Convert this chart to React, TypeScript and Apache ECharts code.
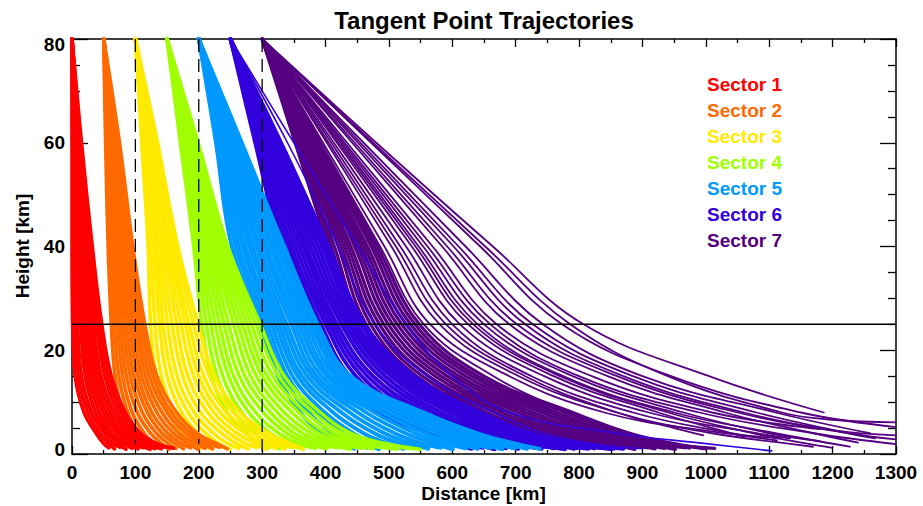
import React, { useEffect, useRef } from "react";
import * as echarts from "echarts";

// Heights (km) at which each trajectory's distance is read
const LEVELS = [80, 60, 40, 25, 15, 8, 4, 2];

const SECTOR_NAMES = ["Sector 1", "Sector 2", "Sector 3", "Sector 4", "Sector 5", "Sector 6", "Sector 7"];
const SECTOR_COLORS = ["#FF0000", "#FF6A00", "#FFEA00", "#A0FF00", "#0099FF", "#3300DD", "#550080"];

const X_TICKS = [0, 100, 200, 300, 400, 500, 600, 700, 800, 900, 1000, 1100, 1200, 1300];
const Y_TICKS = [0, 20, 40, 60, 80];
const DASHED_X = [100, 200, 300];
const DASHED_BOTTOM = [2, 2, 0.5];
const REF_HEIGHT = 25;

// Each line: x (km) at LEVELS (in order, possibly fewer), then tail points [x, h]
const SECTOR1 = [
  { x: [0, 0, 0, 1, 5, 19, 38, 50], tail: [[58, 1.2]] },
  { x: [0, 1, 3, 5, 10, 25, 44, 58], tail: [[67, 1.0]] },
  { x: [0, 3, 6, 9, 15, 31, 51, 65], tail: [[76, 1.3]] },
  { x: [0, 4, 9, 14, 21, 37, 57, 73], tail: [[85, 0.9]] },
  { x: [0, 5, 12, 18, 26, 43, 63, 81], tail: [[95, 1.1]] },
  { x: [0, 7, 15, 22, 31, 49, 70, 88], tail: [[104, 1.0]] },
  { x: [0, 8, 17, 26, 36, 54, 76, 96], tail: [[113, 1.2]] },
  { x: [0, 10, 20, 30, 41, 60, 82, 104], tail: [[123, 0.9]] },
  { x: [0, 11, 23, 34, 46, 66, 89, 111], tail: [[132, 1.1]] },
  { x: [0, 12, 26, 39, 52, 72, 95, 119], tail: [[141, 1.0]] },
  { x: [0, 14, 29, 43, 57, 78, 102, 126], tail: [[150, 1.3]] },
  { x: [0, 15, 32, 47, 62, 84, 108, 134], tail: [[160, 1.1]] },
];

const SECTOR2 = [
  { x: [50, 53, 57, 62, 68, 80, 96, 108], tail: [[118, 1.2]] },
  { x: [50, 55, 61, 67, 74, 88, 105, 119], tail: [[130, 1.0]] },
  { x: [50, 57, 64, 72, 80, 95, 114, 130], tail: [[141, 1.3]] },
  { x: [50, 59, 68, 76, 86, 103, 124, 141], tail: [[153, 0.9]] },
  { x: [50, 61, 71, 81, 92, 111, 133, 152], tail: [[164, 1.1]] },
  { x: [50, 63, 75, 86, 98, 119, 142, 163], tail: [[176, 1.0]] },
  { x: [50, 65, 78, 91, 104, 126, 151, 173], tail: [[187, 1.2]] },
  { x: [50, 67, 82, 96, 110, 134, 160, 184], tail: [[199, 0.9]] },
  { x: [50, 69, 85, 101, 116, 142, 169, 195], tail: [[210, 1.1]] },
  { x: [50, 71, 89, 105, 122, 150, 179, 206], tail: [[222, 1.0]] },
  { x: [50, 73, 92, 110, 128, 157, 188, 217], tail: [[233, 1.3]] },
  { x: [50, 75, 96, 115, 134, 165, 197, 228], tail: [[245, 1.0]] },
];

const SECTOR3 = [
  { x: [100, 110, 120, 124, 133, 152, 174, 190], tail: [[205, 1.2]] },
  { x: [100, 112, 124, 131, 141, 162, 186, 204], tail: [[220, 1.0]] },
  { x: [100, 115, 129, 138, 150, 173, 199, 218], tail: [[234, 1.3]] },
  { x: [100, 117, 133, 144, 158, 183, 211, 232], tail: [[249, 0.9]] },
  { x: [100, 119, 137, 151, 166, 193, 223, 246], tail: [[263, 1.1]] },
  { x: [100, 121, 141, 158, 175, 203, 236, 260], tail: [[278, 1.0]] },
  { x: [100, 124, 146, 165, 183, 214, 248, 274], tail: [[292, 1.2]] },
  { x: [100, 126, 150, 172, 192, 224, 260, 289], tail: [[307, 0.9]] },
  { x: [100, 128, 154, 179, 200, 234, 273, 303], tail: [[321, 1.1]] },
  { x: [100, 130, 158, 185, 208, 244, 285, 317], tail: [[336, 1.0]] },
  { x: [100, 133, 163, 192, 217, 255, 298, 331], tail: [[350, 1.2]] },
  { x: [100, 135, 167, 199, 225, 265, 310, 345], tail: [[365, 1.0]] },
];

const SECTOR4 = [
  { x: [150, 171, 192, 205, 220, 245, 275, 295], tail: [[310, 1.2]] },
  { x: [150, 173, 196, 212, 229, 256, 288, 310], tail: [[328, 1.0]] },
  { x: [150, 175, 200, 219, 238, 268, 300, 326], tail: [[347, 1.3]] },
  { x: [150, 177, 204, 226, 247, 279, 313, 341], tail: [[365, 0.9]] },
  { x: [150, 180, 209, 233, 255, 290, 326, 357], tail: [[384, 1.1]] },
  { x: [150, 182, 213, 240, 264, 302, 339, 372], tail: [[402, 1.0]] },
  { x: [150, 184, 217, 247, 273, 313, 351, 387], tail: [[420, 1.2]] },
  { x: [150, 186, 221, 255, 282, 324, 364, 403], tail: [[439, 0.9]] },
  { x: [150, 188, 225, 262, 291, 335, 377, 418], tail: [[457, 1.1]] },
  { x: [150, 190, 229, 269, 300, 347, 389, 433], tail: [[475, 1.0]] },
  { x: [150, 193, 234, 276, 308, 358, 402, 449], tail: [[494, 1.2]] },
  { x: [150, 195, 238, 283, 317, 369, 415, 464], tail: [[512, 0.9]] },
  { x: [150, 197, 242, 290, 326, 381, 427, 480], tail: [[531, 1.1]] },
  { x: [150, 199, 246, 297, 335, 392, 440, 495], tail: [[549, 0.9]] },
];

const SECTOR5 = [
  { x: [200, 227, 252, 297, 325, 360, 395, 425], tail: [[445, 1.0]] },
  { x: [200, 230, 258, 303, 333, 373, 411, 443], tail: [[465, 1.2]] },
  { x: [200, 232, 263, 309, 340, 386, 428, 462], tail: [[484, 0.9]] },
  { x: [200, 235, 269, 315, 348, 399, 444, 480], tail: [[504, 1.1]] },
  { x: [200, 238, 274, 321, 356, 412, 460, 498], tail: [[523, 1.0]] },
  { x: [200, 241, 280, 327, 363, 425, 477, 517], tail: [[543, 1.3]] },
  { x: [200, 243, 285, 333, 371, 438, 493, 535], tail: [[562, 1.0]] },
  { x: [200, 246, 291, 339, 379, 451, 509, 553], tail: [[582, 1.2]] },
  { x: [200, 249, 296, 346, 386, 464, 526, 572], tail: [[601, 0.9]] },
  { x: [200, 252, 302, 352, 394, 477, 542, 590], tail: [[621, 1.1]] },
  { x: [200, 254, 307, 358, 402, 490, 558, 608], tail: [[640, 1.0]] },
  { x: [200, 257, 313, 364, 409, 503, 575, 627], tail: [[660, 1.2]] },
  { x: [200, 260, 318, 370, 417, 516, 591, 645], tail: [[679, 0.9]] },
  { x: [200, 263, 324, 376, 425, 529, 607, 663], tail: [[699, 1.1]] },
  { x: [200, 265, 329, 382, 432, 542, 624, 682], tail: [[718, 1.0]] },
  { x: [200, 268, 335, 388, 440, 555, 640, 700], tail: [[738, 1.0]] },
];

const SECTOR6 = [
  { x: [250, 289, 330, 381, 420, 485, 560, 605], tail: [[630, 1.0]] },
  { x: [250, 292, 336, 387, 429, 497, 573, 620], tail: [[648, 1.2]] },
  { x: [250, 295, 342, 393, 438, 510, 585, 635], tail: [[667, 0.9]] },
  { x: [250, 298, 347, 400, 448, 522, 598, 650], tail: [[685, 1.1]] },
  { x: [250, 302, 353, 406, 457, 534, 611, 665], tail: [[704, 1.0]] },
  { x: [250, 305, 359, 412, 466, 547, 623, 680], tail: [[722, 1.3]] },
  { x: [250, 308, 365, 418, 475, 559, 636, 695], tail: [[741, 1.0]] },
  { x: [250, 311, 370, 425, 485, 571, 649, 710], tail: [[759, 1.2]] },
  { x: [250, 314, 376, 431, 494, 583, 662, 725], tail: [[778, 0.9]] },
  { x: [250, 317, 382, 437, 503, 596, 674, 740], tail: [[796, 1.1]] },
  { x: [250, 321, 388, 443, 512, 608, 687, 755], tail: [[815, 1.0]] },
  { x: [250, 324, 394, 449, 522, 620, 700, 770], tail: [[833, 1.2]] },
  { x: [250, 327, 399, 456, 531, 633, 712, 785], tail: [[852, 0.9]] },
  { x: [250, 330, 405, 462, 540, 645, 725, 800], tail: [[870, 1.0]] },
];
const SECTOR6_THIN = [
  { x: [250, 340, 420, 478, 560, 665, 745, 820], tail: [[900, 1.0]] },
  { x: [250, 350, 451, 527, 600, 690, 860, 1000], tail: [[1104, 0.6]] },
];

const SECTOR7_CORE = [
  { x: [300, 352, 404, 443, 505, 605, 685, 735], tail: [[760, 1.0]] },
  { x: [300, 355, 409, 450, 515, 617, 698, 749], tail: [[776, 1.2]] },
  { x: [300, 357, 414, 457, 524, 630, 711, 764], tail: [[792, 0.9]] },
  { x: [300, 360, 420, 464, 534, 642, 724, 778], tail: [[808, 1.1]] },
  { x: [300, 362, 425, 471, 544, 654, 737, 792], tail: [[824, 1.0]] },
  { x: [300, 365, 430, 478, 553, 667, 750, 807], tail: [[840, 1.3]] },
  { x: [300, 367, 435, 485, 563, 679, 763, 821], tail: [[856, 1.0]] },
  { x: [300, 370, 440, 492, 573, 691, 776, 835], tail: [[872, 1.2]] },
  { x: [300, 372, 446, 499, 582, 704, 789, 850], tail: [[888, 0.9]] },
  { x: [300, 375, 451, 506, 592, 716, 802, 864], tail: [[907, 1.2]] },
  { x: [300, 377, 456, 513, 602, 728, 815, 878], tail: [[920, 1.0]] },
  { x: [300, 380, 461, 520, 611, 741, 828, 893], tail: [[935, 1.1]] },
  { x: [300, 382, 466, 527, 621, 753, 841, 907], tail: [[952, 0.9]] },
  { x: [300, 385, 472, 534, 631, 765, 854, 921], tail: [[968, 1.2]] },
  { x: [300, 387, 477, 541, 640, 778, 867, 936], tail: [[1014, 1.1]] },
  { x: [300, 390, 482, 548, 650, 790, 880, 950], tail: [[1000, 1.0]] },
];

const SECTOR7_SPREAD = [
  { x: [300, 480, 664, 807, 1005], tail: [[1186, 8.0]] },
  { x: [300, 475, 652, 786, 940, 1120], tail: [[1200, 6.6], [1300, 6.1]] },
  { x: [300, 472, 644, 773, 945, 1150], tail: [[1300, 5.2]] },
  { x: [300, 460, 621, 743, 900, 1110], tail: [[1259, 4.0]] },
  { x: [300, 455, 610, 727, 885, 1080, 1225], tail: [[1267, 3.0]] },
  { x: [300, 451, 602, 715, 870, 1060], tail: [[1200, 4.6], [1300, 3.6]] },
  { x: [300, 446, 592, 702, 860, 1050, 1225], tail: [[1300, 2.8]] },
  { x: [300, 442, 584, 690, 845, 1030, 1170], tail: [[1240, 2.2]] },
  { x: [300, 434, 569, 670, 820, 1010], tail: [[1180, 4.8]] },
  { x: [300, 430, 561, 660, 800, 990, 1170], tail: [[1300, 1.9]] },
  { x: [300, 427, 554, 650, 790, 965, 1100], tail: [[1180, 2.5]] },
  { x: [300, 424, 547, 640, 775, 950, 1110], tail: [[1227, 1.4]] },
  { x: [300, 421, 542, 633, 770, 940, 1075, 1160], tail: [[1200, 1.2]] },
  { x: [300, 418, 536, 625, 760, 925, 1040], tail: [[1060, 3.3]] },
  { x: [300, 413, 527, 612, 745, 910, 1080], tail: [[1133, 3.0]] },
  { x: [300, 409, 518, 600, 725, 885, 1040], tail: [[1112, 2.6]] },
  { x: [300, 405, 511, 590, 715, 860], tail: [[950, 5.0], [996, 3.6]] },
  { x: [300, 402, 504, 580, 705, 860, 1010, 1130], tail: [[1169, 1.4]] },
  { x: [300, 396, 493, 565, 690, 840], tail: [[1000, 4.5], [1117, 3.0]] },
  { x: [300, 393, 486, 555, 665, 785, 875, 935], tail: [[975, 1.0]] },
];

const FONT = '"Liberation Sans", Arial, Helvetica, sans-serif';

function toPoints(line: { x: number[]; tail: number[][] }) {
  const pts: number[][] = line.x.map((x, i) => [x, LEVELS[i]]);
  return pts.concat(line.tail);
}

function makeSeries(lines: any[], color: string, width: number) {
  return lines.map((ln) => ({
    type: "line",
    data: toPoints(ln),
    showSymbol: false,
    symbol: "none",
    smooth: 0.4,
    silent: true,
    animation: false,
    lineStyle: { color, width, cap: "round", join: "round" },
    z: 2,
  }));
}

export default function App() {
  const ref = useRef<HTMLDivElement>(null);

  useEffect(() => {
    if (!ref.current) return;
    const chart = echarts.init(ref.current, undefined, { renderer: "svg" });

    const series: any[] = [];
    // draw order: sector 7 first so lower sector numbers are on top
    series.push(...makeSeries(SECTOR7_CORE, SECTOR_COLORS[6], 3.2));
    series.push(...makeSeries(SECTOR7_SPREAD, SECTOR_COLORS[6], 1.8));
    series.push(...makeSeries(SECTOR6, SECTOR_COLORS[5], 3.8));
    series.push(...makeSeries(SECTOR6_THIN, SECTOR_COLORS[5], 1.6));
    series.push(...makeSeries(SECTOR5, SECTOR_COLORS[4], 3.8));
    series.push(...makeSeries(SECTOR4, SECTOR_COLORS[3], 3.6));
    series.push(...makeSeries(SECTOR3, SECTOR_COLORS[2], 3.6));
    series.push(...makeSeries(SECTOR2, SECTOR_COLORS[1], 3.6));
    series.push(...makeSeries(SECTOR1, SECTOR_COLORS[0], 3.6));

    DASHED_X.forEach((x, i) => {
      series.push({
        type: "line",
        data: [[x, 80], [x, DASHED_BOTTOM[i]]],
        showSymbol: false,
        symbol: "none",
        silent: true,
        animation: false,
        lineStyle: { color: "#000", width: 1.3, type: [13, 7] },
        z: 5,
      });
    });
    series.push({
      type: "line",
      data: [[X_TICKS[0], REF_HEIGHT], [X_TICKS[X_TICKS.length - 1], REF_HEIGHT]],
      showSymbol: false,
      symbol: "none",
      silent: true,
      animation: false,
      lineStyle: { color: "#000", width: 1.5 },
      z: 5,
    });

    const axisCommon = {
      type: "value",
      axisLine: { show: true, onZero: false, lineStyle: { color: "#000", width: 1.5 } },
      splitLine: { show: false },
      minorSplitLine: { show: false },
    };

    const legendTexts = SECTOR_NAMES.map((name, i) => ({
      type: "text",
      x: 707,
      y: 84.3 + 26 * i,
      silent: true,
      style: {
        text: name,
        fill: SECTOR_COLORS[i],
        font: `bold 19px ${FONT}`,
        align: "left",
        verticalAlign: "middle",
      },
      z: 10,
    }));

    const option: any = {
      animation: false,
      backgroundColor: "#fff",
      grid: { left: 72, right: 27, top: 39, bottom: 52, containLabel: false },
      xAxis: [
        {
          ...axisCommon,
          position: "bottom",
          min: X_TICKS[0],
          max: X_TICKS[X_TICKS.length - 1],
          interval: 100,
          axisTick: { show: true, inside: true, length: 8, lineStyle: { color: "#000", width: 1.3 } },
          minorTick: { show: true, splitNumber: 2, length: 4, lineStyle: { color: "#000", width: 1.3 } },
          axisLabel: {
            color: "#000",
            fontSize: 19,
            fontWeight: "bold",
            fontFamily: FONT,
            margin: 9,
            formatter: (v: number) => String(v),
          },
        },
        {
          ...axisCommon,
          position: "top",
          min: X_TICKS[0],
          max: X_TICKS[X_TICKS.length - 1],
          interval: 100,
          axisTick: { show: true, inside: true, length: 8, lineStyle: { color: "#000", width: 1.3 } },
          minorTick: { show: true, splitNumber: 2, length: 4, lineStyle: { color: "#000", width: 1.3 } },
          axisLabel: { show: false },
        },
      ],
      yAxis: [
        {
          ...axisCommon,
          position: "left",
          min: Y_TICKS[0],
          max: Y_TICKS[Y_TICKS.length - 1],
          interval: 20,
          axisTick: { show: true, inside: true, length: 16, lineStyle: { color: "#000", width: 1.3 } },
          minorTick: { show: true, splitNumber: 4, length: 8, lineStyle: { color: "#000", width: 1.3 } },
          axisLabel: {
            color: "#000",
            fontSize: 19,
            fontWeight: "bold",
            fontFamily: FONT,
            margin: 7,
            lineHeight: 10,
            verticalAlignMinLabel: "bottom",
            verticalAlignMaxLabel: "top",
            formatter: (v: number) => String(v),
          },
        },
        {
          ...axisCommon,
          position: "right",
          min: Y_TICKS[0],
          max: Y_TICKS[Y_TICKS.length - 1],
          interval: 20,
          axisTick: { show: true, inside: true, length: 16, lineStyle: { color: "#000", width: 1.3 } },
          minorTick: { show: true, splitNumber: 4, length: 8, lineStyle: { color: "#000", width: 1.3 } },
          axisLabel: { show: false },
        },
      ],
      graphic: [
        {
          type: "text",
          x: 484,
          y: 20.5,
          silent: true,
          style: {
            text: "Tangent Point Trajectories",
            fill: "#000",
            font: `bold 24px ${FONT}`,
            align: "center",
            verticalAlign: "middle",
          },
        },
        {
          type: "text",
          x: 483.5,
          y: 493.5,
          silent: true,
          style: {
            text: "Distance [km]",
            fill: "#000",
            font: `bold 19px ${FONT}`,
            align: "center",
            verticalAlign: "middle",
          },
        },
        {
          type: "text",
          x: 22.5,
          y: 246,
          rotation: Math.PI / 2,
          silent: true,
          style: {
            text: "Height [km]",
            fill: "#000",
            font: `bold 19px ${FONT}`,
            align: "center",
            verticalAlign: "middle",
          },
        },
        ...legendTexts,
      ],
      series,
    };

    chart.setOption(option);
    return () => {
      chart.dispose();
    };
  }, []);

  return (
    <div
      ref={ref}
      style={{ position: "absolute", left: 0, top: 0, width: 923, height: 506, background: "#fff" }}
    />
  );
}
